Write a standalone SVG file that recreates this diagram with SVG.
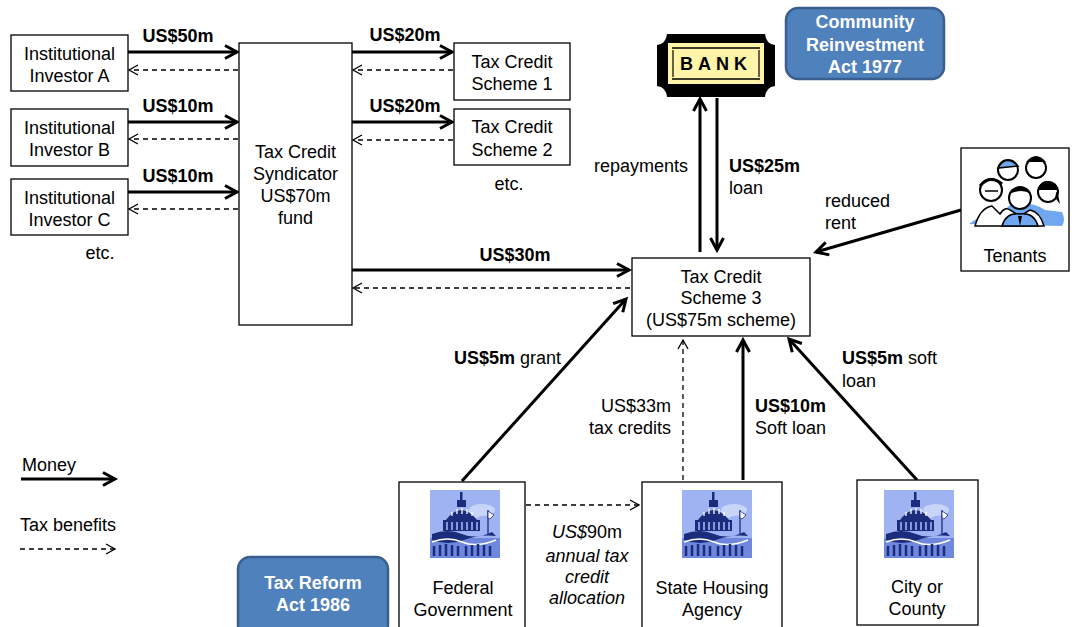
<svg xmlns="http://www.w3.org/2000/svg" width="1072" height="627" viewBox="0 0 1072 627">
<style>
text{font-family:"Liberation Sans",Arial,sans-serif;font-size:18px;fill:#000}
.c{text-anchor:middle}
.b{font-weight:bold}
.e{text-anchor:end}
.box{fill:#fff;stroke:#000;stroke-width:1.3}
.act rect{fill:#4F81BD;stroke:#3A5F8E;stroke-width:2.5}
.act text{fill:#fff;font-weight:bold;stroke:none}
.m{fill:none;stroke:#000;stroke-width:3;marker-end:url(#am)}
.d{fill:none;stroke:#000;stroke-width:1.3;stroke-dasharray:5 4;marker-end:url(#ad)}
.i{font-style:italic}
</style>
<defs>
<marker id="am" viewBox="-16 -9 20 18" refX="0" refY="0" markerWidth="20" markerHeight="18" markerUnits="userSpaceOnUse" orient="auto">
<path d="M-12,-6.5 L0,0 L-12,6.5" fill="none" stroke="#000" stroke-width="3"/>
</marker>
<marker id="ad" viewBox="-12 -7 14 14" refX="0" refY="0" markerWidth="14" markerHeight="14" markerUnits="userSpaceOnUse" orient="auto">
<path d="M-9,-5 L0,0 L-9,5" fill="none" stroke="#000" stroke-width="1.3"/>
</marker>
<symbol id="capitol" viewBox="0 0 70 68">
<rect x="0" y="0" width="70" height="68" fill="#9FB3F3"/>
<rect x="0" y="48" width="70" height="20" fill="#6F87DC"/>
<ellipse cx="52" cy="20" rx="13" ry="6" fill="#C8D5F9"/>
<ellipse cx="44" cy="24" rx="8" ry="4" fill="#C8D5F9"/>
<rect x="30" y="2" width="2.5" height="9" fill="#1C2C7C"/>
<rect x="27" y="10" width="9" height="7" fill="#1C2C7C"/>
<path d="M16,30 Q31,10 47,30 Z" fill="#1C2C7C"/>
<path d="M22,26 L22,22 M27,24 L27,19 M32,24 L32,18 M37,24 L37,19 M42,26 L42,22" stroke="#fff" stroke-width="1.3"/>
<rect x="13" y="30" width="37" height="11" fill="#1C2C7C"/>
<path d="M17,32 V40 M22,32 V40 M27,32 V40 M32,32 V40 M37,32 V40 M42,32 V40 M47,32 V40" stroke="#9FB3F3" stroke-width="1.6"/>
<path d="M2,44 Q18,38 32,44 T62,42 L66,46 Q50,44 34,50 T2,50 Z" fill="#1C2C7C"/>
<path d="M2,52 Q18,46 32,52 T66,50" stroke="#fff" stroke-width="1.5" fill="none"/>
<path d="M4,56 V66 M10,55 V66 M16,54 V66 M22,55 V66 M28,56 V66 M36,56 V66 M42,55 V66 M48,54 V66 M54,55 V66 M60,56 V66" stroke="#1C2C7C" stroke-width="2.5"/>
<path d="M58,44 V20" stroke="#1C2C7C" stroke-width="1.3"/>
<path d="M58,21 L64,25 L60,29 L58,28 Z" fill="#fff" stroke="#1C2C7C" stroke-width="0.8"/>
</symbol>
</defs>

<g id="connectors">
<path class="m" d="M128,52 H237"/>
<path class="m" d="M128,122 H237"/>
<path class="m" d="M128,192 H237"/>
<path class="d" d="M238,70 H129"/>
<path class="d" d="M238,139 H129"/>
<path class="d" d="M238,209 H129"/>
<path class="m" d="M352,52 H452"/>
<path class="m" d="M352,122 H452"/>
<path class="d" d="M453,70 H353"/>
<path class="d" d="M453,140 H353"/>
<path class="m" d="M352,270 H629"/>
<path class="d" d="M630,288 H353"/>
<path class="m" d="M700,252 V99"/>
<path class="m" d="M717,98 V250"/>
<path class="m" d="M961,210 L816,252"/>
<path class="m" d="M462,481 L626,299"/>
<path class="d" d="M683,480 V340"/>
<path class="m" d="M743,480 V340"/>
<path class="m" d="M917,480 L789,339"/>
<path class="d" d="M526,505 H639"/>
</g>

<g id="labels">
<text class="b c" x="178" y="42">US$50m</text>
<text class="b c" x="178" y="112">US$10m</text>
<text class="b c" x="178" y="182">US$10m</text>
<text class="c" x="100" y="259">etc.</text>
<text class="b c" x="405" y="41">US$20m</text>
<text class="b c" x="405" y="112">US$20m</text>
<text class="c" x="509" y="190">etc.</text>
<text class="b c" x="515" y="261">US$30m</text>
<text class="e" x="688" y="172">repayments</text>
<text class="b" x="729" y="172">US$25m</text>
<text x="729" y="194">loan</text>
<text x="825" y="207">reduced</text>
<text x="825" y="229">rent</text>
<text x="454" y="364"><tspan class="b">US$5m</tspan> grant</text>
<text class="e" x="671" y="412">US$33m</text>
<text class="e" x="671" y="434">tax credits</text>
<text class="b" x="755" y="412">US$10m</text>
<text x="755" y="434">Soft loan</text>
<text x="842" y="364"><tspan class="b">US$5m</tspan> soft</text>
<text x="842" y="387">loan</text>
<text class="c" x="587" y="538"><tspan class="i">US$</tspan>90m</text>
<text class="c i" x="587" y="562">annual tax</text>
<text class="c i" x="587" y="583">credit</text>
<text class="c i" x="587" y="604">allocation</text>
</g>

<g id="investorA">
<rect class="box" x="11" y="35" width="117" height="56"/>
<text class="c" x="69.5" y="60">Institutional</text>
<text class="c" x="69.5" y="82">Investor A</text>
</g>
<g id="investorB">
<rect class="box" x="11" y="109" width="117" height="57"/>
<text class="c" x="69.5" y="134">Institutional</text>
<text class="c" x="69.5" y="156">Investor B</text>
</g>
<g id="investorC">
<rect class="box" x="11" y="179" width="117" height="56"/>
<text class="c" x="69.5" y="204">Institutional</text>
<text class="c" x="69.5" y="226">Investor C</text>
</g>
<g id="syndicator">
<rect class="box" x="239" y="43" width="113" height="282"/>
<text class="c" x="295.5" y="158">Tax Credit</text>
<text class="c" x="295.5" y="180">Syndicator</text>
<text class="c" x="295.5" y="202">US$70m</text>
<text class="c" x="295.5" y="224">fund</text>
</g>
<g id="scheme1">
<rect class="box" x="454" y="43" width="116" height="57"/>
<text class="c" x="512" y="68">Tax Credit</text>
<text class="c" x="512" y="90">Scheme 1</text>
</g>
<g id="scheme2">
<rect class="box" x="454" y="109" width="116" height="56"/>
<text class="c" x="512" y="133">Tax Credit</text>
<text class="c" x="512" y="156">Scheme 2</text>
</g>
<g id="bank">
<path d="M667,34 H765 Q766,44 775,45 V86 Q766,87 765,97 H667 Q666,87 657,86 V45 Q666,44 667,34 Z" fill="#000"/>
<rect x="668" y="43" width="96" height="41" fill="#FFF4A8"/>
<path d="M672,48 H760 M672,79 H760" stroke="#000" stroke-width="1.5"/>
<path d="M673,50 V77 M759,50 V77" stroke="#000" stroke-width="1.2"/>
<text x="716" y="70" text-anchor="middle" style="font-family:'Liberation Sans',Arial,sans-serif;font-weight:bold;font-size:18px;letter-spacing:5px">BANK</text>
</g>
<g id="cra" class="act">
<rect x="786" y="8" width="158" height="71" rx="12"/>
<text class="c" x="865" y="28">Community</text>
<text class="c" x="865" y="51">Reinvestment</text>
<text class="c" x="865" y="73">Act 1977</text>
</g>
<g id="scheme3">
<rect class="box" x="632" y="258" width="178" height="78"/>
<text class="c" x="721" y="283">Tax Credit</text>
<text class="c" x="721" y="304">Scheme 3</text>
<text class="c" x="721" y="326">(US$75m scheme)</text>
</g>
<g id="tenants">
<rect class="box" x="961" y="148" width="108" height="123"/>
<path d="M969,224 Q985,212 1000,214 L1010,205 Q1030,200 1045,210 L1062,212 Q1066,220 1062,226 Z" fill="#6FA8F0"/>
<circle cx="1008" cy="170" r="10" fill="#fff" stroke="#000" stroke-width="2"/>
<circle cx="1036" cy="168" r="10" fill="#fff" stroke="#000" stroke-width="2"/>
<path d="M1026,162 Q1036,150 1046,162 Z" fill="#000"/>
<path d="M998,168 Q1006,154 1018,166 Z" fill="#6FA8F0" stroke="#000" stroke-width="1.5"/>
<circle cx="991" cy="190" r="11" fill="#fff" stroke="#000" stroke-width="2"/>
<path d="M980,186 Q990,174 1002,184" fill="none" stroke="#000" stroke-width="3"/>
<path d="M985,191 H998" stroke="#000" stroke-width="1.5"/>
<circle cx="1048" cy="192" r="10" fill="#fff" stroke="#000" stroke-width="2"/>
<path d="M1038,190 Q1042,176 1056,184 L1060,204 Q1052,196 1058,190" fill="#000"/>
<circle cx="1020" cy="198" r="11" fill="#fff" stroke="#000" stroke-width="2"/>
<path d="M1009,194 Q1020,180 1031,194 Q1022,188 1009,194 Z" fill="#000"/>
<path d="M975,226 Q980,208 992,206 L1000,214 Q1005,206 1010,210 L1020,216 L1030,210 Q1040,212 1044,226 Z" fill="#fff" stroke="#000" stroke-width="1.5"/>
<path d="M1002,226 Q1006,212 1020,214 Q1034,212 1038,226 Z" fill="#6FA8F0" stroke="#000" stroke-width="1.5"/>
<path d="M1018,216 L1020,226 L1022,216" fill="#000"/>
<text class="c" x="1015" y="262">Tenants</text>
</g>
<g id="federal">
<rect class="box" x="399" y="482" width="126" height="150"/>
<use href="#capitol" x="430" y="490" width="70" height="68"/>
<text class="c" x="463" y="594">Federal</text>
<text class="c" x="463" y="616">Government</text>
</g>
<g id="state">
<rect class="box" x="642" y="482" width="140" height="150"/>
<use href="#capitol" x="682" y="490" width="70" height="68"/>
<text class="c" x="712" y="594">State Housing</text>
<text class="c" x="712" y="616">Agency</text>
</g>
<g id="city">
<rect class="box" x="857" y="480" width="121" height="145"/>
<use href="#capitol" x="884" y="490" width="70" height="68"/>
<text class="c" x="917" y="593">City or</text>
<text class="c" x="917" y="615">County</text>
</g>
<g id="tra" class="act">
<rect x="238" y="557" width="150" height="80" rx="12"/>
<text class="c" x="313" y="589">Tax Reform</text>
<text class="c" x="313" y="611">Act 1986</text>
</g>
<g id="legend">
<text x="22" y="471">Money</text>
<path class="m" d="M21,479 H115"/>
<text x="20" y="531">Tax benefits</text>
<path class="d" d="M20,549 H115"/>
</g>
</svg>
